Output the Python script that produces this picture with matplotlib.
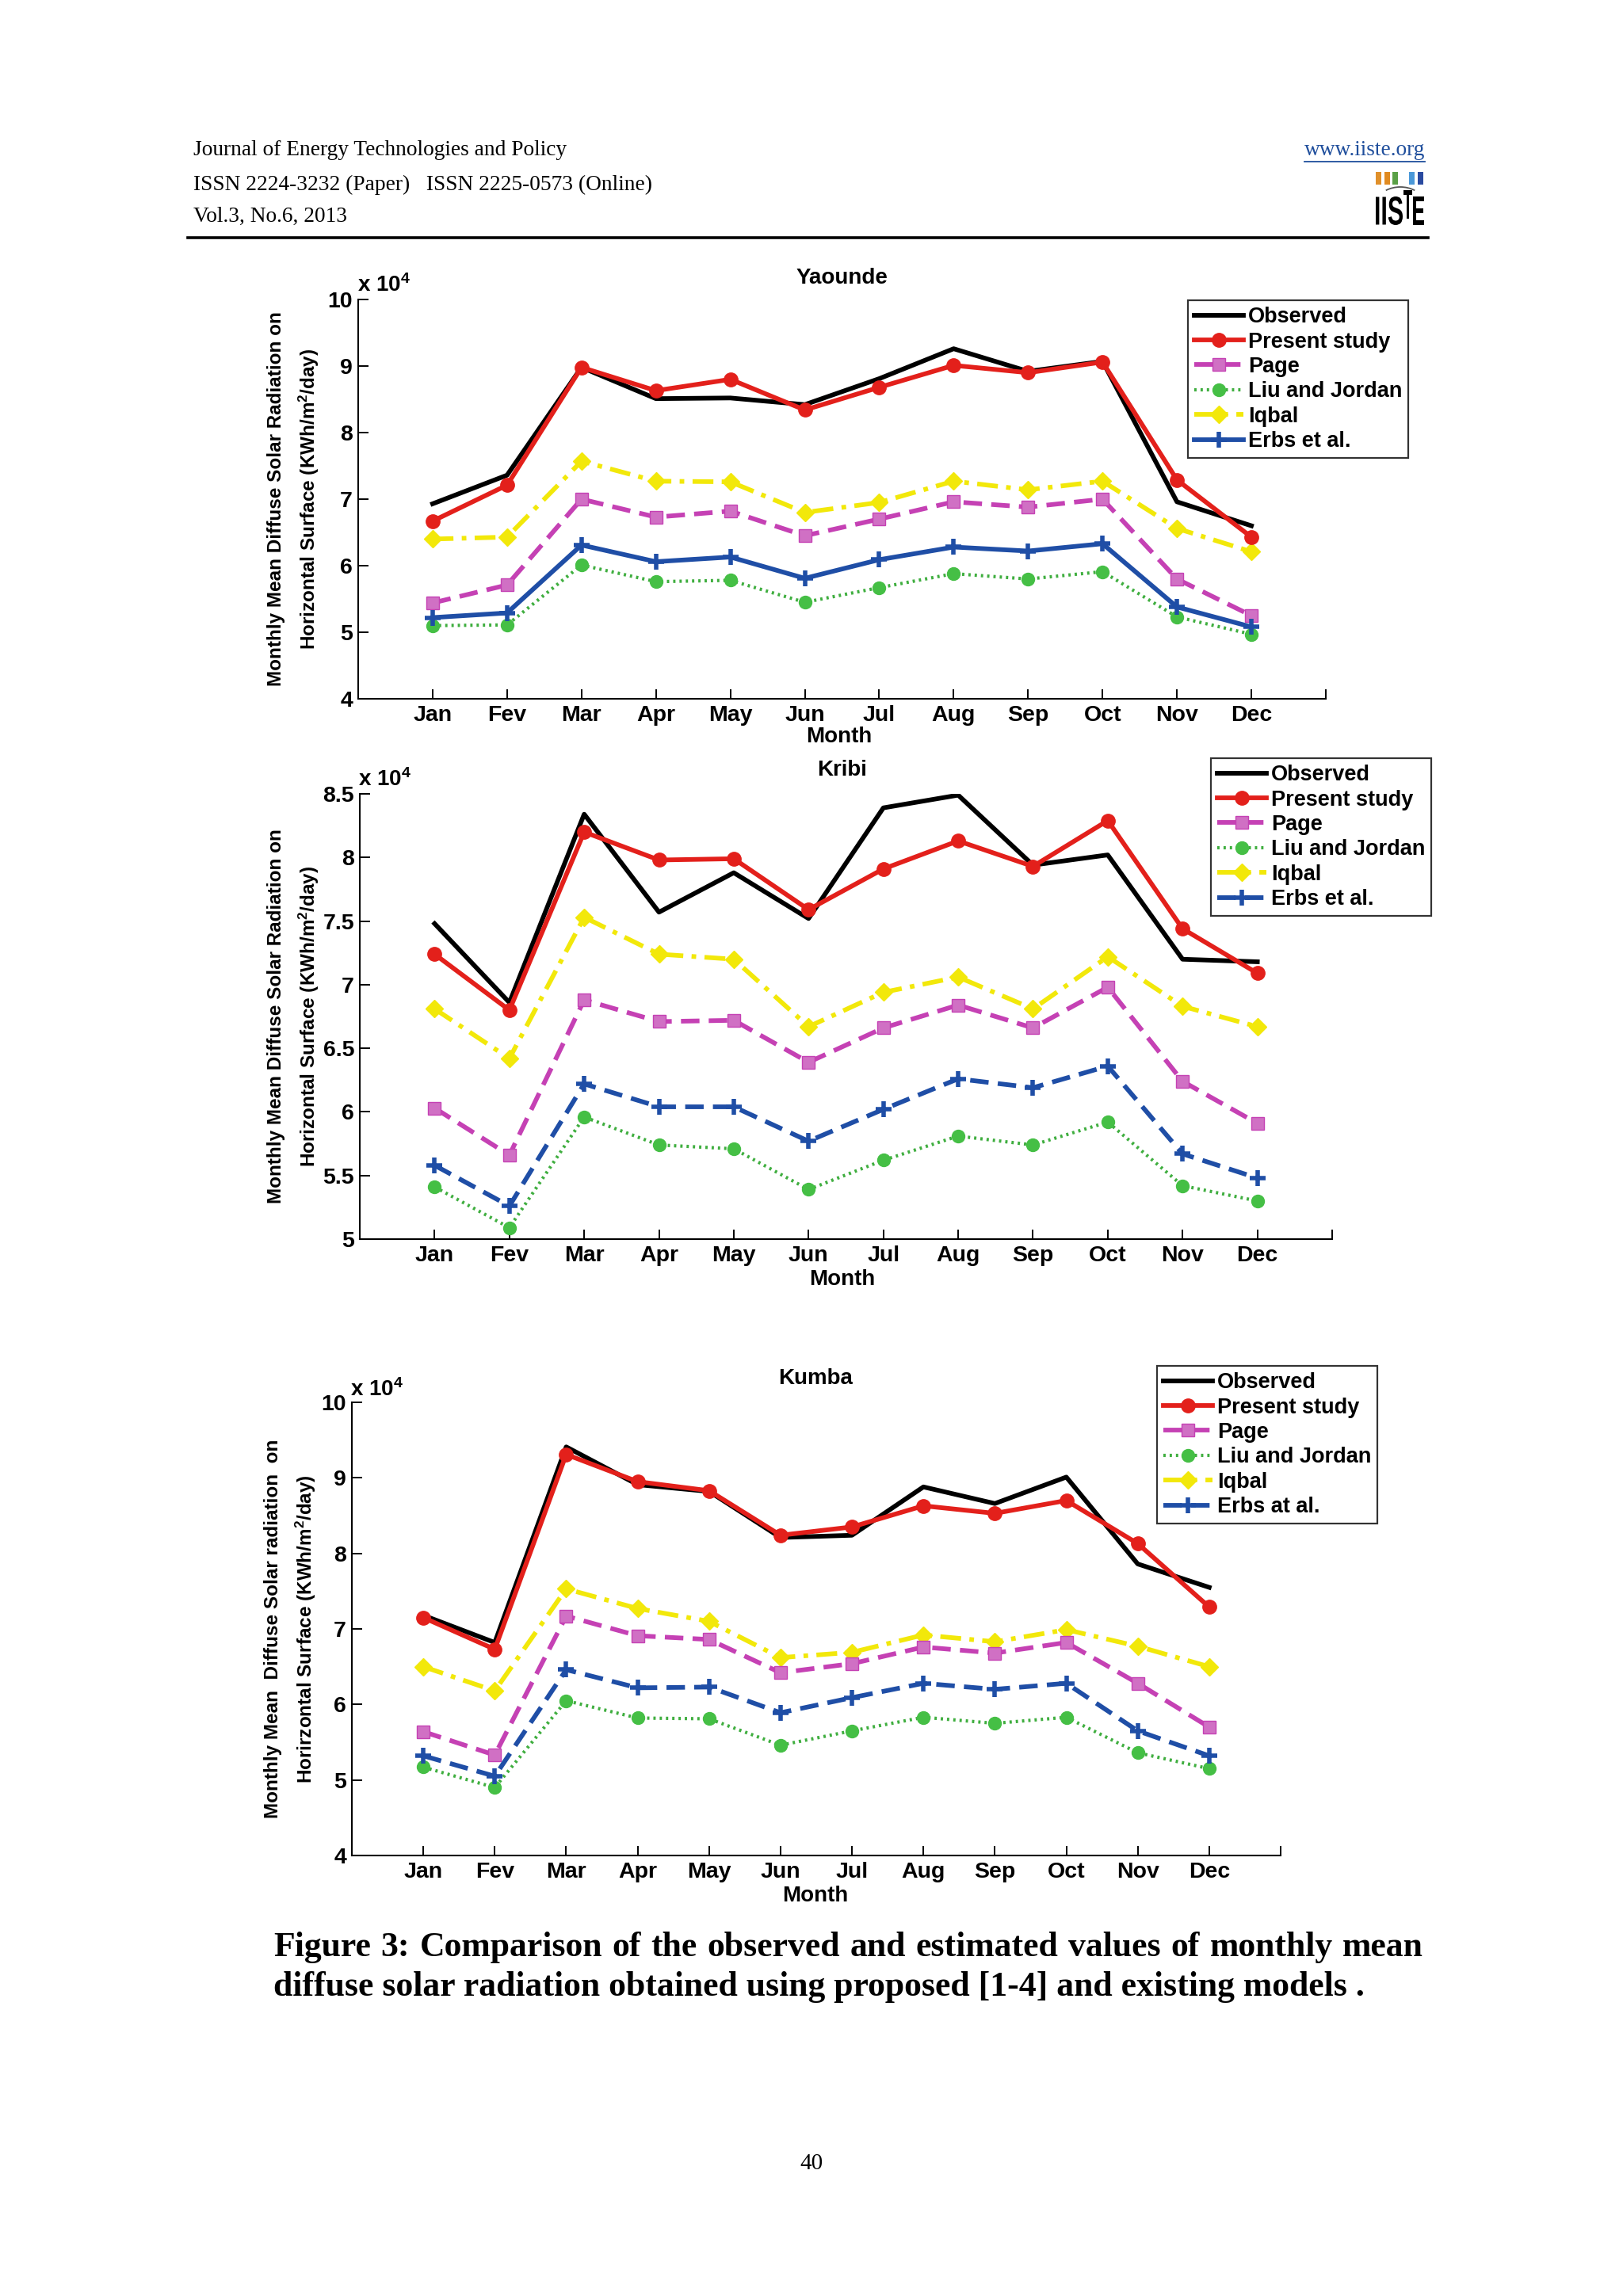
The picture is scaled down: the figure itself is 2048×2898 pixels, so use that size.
import matplotlib
matplotlib.use('Agg')
import matplotlib.pyplot as plt
from matplotlib.patches import Rectangle, Arc, PathPatch
from matplotlib.textpath import TextPath
from matplotlib.font_manager import FontProperties
from matplotlib.transforms import Affine2D

W, H = 2048, 2898

months = ['Jan', 'Fev', 'Mar', 'Apr', 'May', 'Jun', 'Jul', 'Aug', 'Sep', 'Oct', 'Nov', 'Dec']

# Yaounde (x 10^4)
obs_y = [6.93, 7.36, 8.98, 8.51, 8.52, 8.42, 8.81, 9.26, 8.92, 9.07, 6.96, 6.60]
present_y = [6.67, 7.21, 8.98, 8.63, 8.80, 8.34, 8.68, 9.01, 8.90, 9.06, 7.29, 6.43]
page_y = [5.44, 5.71, 7.00, 6.73, 6.82, 6.45, 6.70, 6.96, 6.88, 7.00, 5.80, 5.25]
liu_y = [5.10, 5.11, 6.01, 5.76, 5.78, 5.45, 5.67, 5.88, 5.80, 5.91, 5.23, 4.97]
iqbal_y = [6.40, 6.43, 7.57, 7.27, 7.26, 6.80, 6.95, 7.27, 7.14, 7.27, 6.56, 6.21]
erbs_y = [5.22, 5.29, 6.31, 6.06, 6.13, 5.81, 6.09, 6.28, 6.22, 6.33, 5.38, 5.08]

# Kribi
obs_k = [7.48, 6.86, 8.34, 7.57, 7.88, 7.52, 8.39, 8.49, 7.94, 8.02, 7.20, 7.18]
present_k = [7.24, 6.80, 8.20, 7.98, 7.99, 7.59, 7.91, 8.13, 7.93, 8.29, 7.44, 7.09]
page_k = [6.03, 5.66, 6.88, 6.71, 6.72, 6.39, 6.66, 6.84, 6.66, 6.98, 6.24, 5.91]
liu_k = [5.41, 5.09, 5.96, 5.74, 5.71, 5.39, 5.62, 5.81, 5.74, 5.92, 5.42, 5.30]
iqbal_k = [6.81, 6.42, 7.53, 7.24, 7.20, 6.67, 6.94, 7.06, 6.81, 7.22, 6.83, 6.67]
erbs_k = [5.58, 5.26, 6.22, 6.04, 6.04, 5.77, 6.02, 6.26, 6.19, 6.36, 5.67, 5.48]

# Kumba
obs_m = [7.18, 6.82, 9.41, 8.91, 8.82, 8.21, 8.24, 8.88, 8.66, 9.01, 7.86, 7.55]
present_m = [7.15, 6.73, 9.31, 8.95, 8.83, 8.24, 8.35, 8.63, 8.53, 8.70, 8.13, 7.29]
page_m = [5.64, 5.33, 7.17, 6.91, 6.86, 6.42, 6.54, 6.76, 6.68, 6.82, 6.28, 5.70]
liu_m = [5.17, 4.90, 6.05, 5.82, 5.81, 5.46, 5.65, 5.83, 5.75, 5.83, 5.36, 5.15]
iqbal_m = [6.50, 6.18, 7.53, 7.27, 7.10, 6.62, 6.69, 6.92, 6.83, 6.99, 6.77, 6.50]
erbs_m = [5.32, 5.05, 6.46, 6.22, 6.23, 5.89, 6.09, 6.28, 6.20, 6.28, 5.65, 5.32]

plt.rcParams['font.family'] = ['Liberation Sans', 'DejaVu Sans']
plt.rcParams['font.weight'] = 'bold'
plt.rcParams['mathtext.fontset'] = 'custom'
plt.rcParams['mathtext.rm'] = 'Liberation Sans:bold'
plt.rcParams['mathtext.it'] = 'Liberation Sans:bold'
plt.rcParams['mathtext.bf'] = 'Liberation Sans:bold'

fig = plt.figure(figsize=(W / 100, H / 100), dpi=100)
fig.patch.set_facecolor('white')


def fx(x):
    return x / W


def fy(y):
    return 1 - y / H


def panel(box, series, ylim, yticks, ytlabels, title, title_xy, off_xy, month_xy,
          ylab, ylab_x, legend_xy, erbs_label, erbs_ls):
    left, top, right, bottom = box
    ax = fig.add_axes([fx(left), fy(bottom), (right - left) / W, (bottom - top) / H])
    x = list(range(1, 13))
    obs, pres, page, liu, iqb, erbs = series
    ax.plot(x, obs, color='black', lw=4.2, label='Observed', zorder=3)
    ax.plot(x, pres, color='#e3201b', lw=4.2, marker='o', ms=12.5, label='Present study', zorder=4)
    ax.plot(x, page, color='#c541b4', lw=4.2, dashes=(4.0, 2.0), marker='s', ms=11.5,
            mfc='#d070c4', label='Page', zorder=3)
    ax.plot(x, liu, color='#3fae3f', lw=3.0, dashes=(0.7, 1.2), marker='o', ms=11.5,
            mfc='#45bf45', mec='#45bf45', label='Liu and Jordan', zorder=2)
    ax.plot(x, iqb, color='#f2e80a', lw=4.2, dashes=(4.5, 1.8, 1, 1.8), marker='D', ms=11,
            label='Iqbal', zorder=2)
    if erbs_ls == 'solid':
        ax.plot(x, erbs, color='#1f4ea6', lw=4.2, marker='+', ms=15, mew=4,
                label=erbs_label, zorder=3)
    else:
        ax.plot(x, erbs, color='#1f4ea6', lw=4.2, dashes=(4.0, 2.0), marker='+', ms=15,
                mew=4, label=erbs_label, zorder=3)

    ax.set_xlim(0, 13)
    ax.set_ylim(*ylim)
    ax.set_xticks(list(range(1, 14)))
    ax.set_xticklabels(months + [''])
    ax.set_yticks(yticks)
    ax.set_yticklabels(ytlabels)
    ax.spines['top'].set_visible(False)
    ax.spines['right'].set_visible(False)
    ax.spines['left'].set_linewidth(1.5)
    ax.spines['bottom'].set_linewidth(1.5)
    ax.tick_params(direction='in', length=9, width=1.4, labelsize=20.5)
    ax.tick_params(axis='x', pad=6)
    ax.tick_params(axis='y', pad=5)
    for t in ax.get_xticklabels() + ax.get_yticklabels():
        t.set_fontweight('bold')

    fig.text(fx(title_xy[0]), fy(title_xy[1]), title, ha='center', va='center',
             fontsize=20, fontweight='bold')
    fig.text(fx(off_xy[0]), fy(off_xy[1]), r'x 10$^4$', ha='left', va='baseline',
             fontsize=20, fontweight='bold')
    fig.text(fx(month_xy[0]), fy(month_xy[1]), 'Month', ha='center', va='center',
             fontsize=20, fontweight='bold')
    ymid = (top + bottom) / 2
    fig.text(fx(ylab_x), fy(ymid), ylab, rotation=90, ha='center', va='center',
             fontsize=17.5, fontweight='bold', linespacing=1.6, multialignment='center')

    leg = ax.legend(loc='upper left', bbox_to_anchor=(fx(legend_xy[0]), fy(legend_xy[1])),
                    bbox_transform=fig.transFigure, borderaxespad=0, fancybox=False,
                    frameon=True, edgecolor='black', fontsize=19.5, handlelength=2.3,
                    handletextpad=0.2, labelspacing=0.2, borderpad=0.3)
    leg.get_frame().set_linewidth(1.6)
    for t in leg.get_texts():
        t.set_fontweight('bold')
    return ax


panel((452, 378, 1673, 882), (obs_y, present_y, page_y, liu_y, iqbal_y, erbs_y),
      (4, 10), [4, 5, 6, 7, 8, 9, 10], ['4', '5', '6', '7', '8', '9', '10'],
      'Yaounde', (1062, 351), (451, 368), (1059, 930),
      'Monthly Mean Diffuse Solar Radiation on\nHorizontal Surface (KWh/m$^2$/day)', 371,
      (1499, 379), 'Erbs et al.', 'solid')

panel((454, 1002, 1681, 1564), (obs_k, present_k, page_k, liu_k, iqbal_k, erbs_k),
      (5, 8.5), [5, 5.5, 6, 6.5, 7, 7.5, 8, 8.5],
      ['5', '5.5', '6', '6.5', '7', '7.5', '8', '8.5'],
      'Kribi', (1063, 972), (452, 992), (1063, 1615),
      'Monthly Mean Diffuse Solar Radiation on\nHorizontal Surface (KWh/m$^2$/day)', 371,
      (1528, 957), 'Erbs et al.', 'dashed')

panel((444, 1770, 1616, 2342), (obs_m, present_m, page_m, liu_m, iqbal_m, erbs_m),
      (4, 10), [4, 5, 6, 7, 8, 9, 10], ['4', '5', '6', '7', '8', '9', '10'],
      'Kumba', (1029, 1740), (442, 1762), (1029, 2393),
      'Monthly Mean  Diffuse Solar radiation  on\nHorirzontal Surface (KWh/m$^2$/day)', 367,
      (1460, 1724), 'Erbs at al.', 'dashed')

renderer = fig.canvas.get_renderer()

# header
serif = ['Liberation Serif', 'DejaVu Serif']
fig.text(fx(244), fy(190), 'Journal of Energy Technologies and Policy', family=serif,
         fontweight='normal', fontsize=19.7, ha='left', va='center')
fig.text(fx(244), fy(233), 'ISSN 2224-3232 (Paper)   ISSN 2225-0573 (Online)', family=serif,
         fontweight='normal', fontsize=19.7, ha='left', va='center')
fig.text(fx(244), fy(273), 'Vol.3, No.6, 2013', family=serif,
         fontweight='normal', fontsize=19.7, ha='left', va='center')
url = fig.text(fx(1798), fy(190), 'www.iiste.org', family=serif, fontweight='normal',
               fontsize=19.7, ha='right', va='center', color='#1f4e9c')
uw = url.get_window_extent(renderer=renderer).width
fig.add_artist(plt.Line2D([fx(1798 - uw), fx(1798)], [fy(204), fy(204)], color='#1f4e9c', lw=1.3))
fig.add_artist(plt.Line2D([fx(237), fx(1802)], [fy(300), fy(300)], color='black', lw=2.6))

# logo: coloured bars, arc and condensed "IISTE"
bar_cols = ['#e0902a', '#e08a20', '#5aa046', None, '#4a98d8', '#2a4aa0']
for i, c in enumerate(bar_cols):
    if c is None:
        continue
    x0 = 1736 + i * 10.5
    fig.add_artist(Rectangle((fx(x0), fy(233)), 7 / W, 16 / H, transform=fig.transFigure,
                             color=c, lw=0))
fig.add_artist(Arc((fx(1767), fy(262)), 66 / W, 52 / H, theta1=40, theta2=140,
                   transform=fig.transFigure, color='#555555', lw=1.3))
logo_font = FontProperties(family='Liberation Sans', weight='bold')


def logo_text(s, x_left, y_base, cap_px, width_px):
    tp = TextPath((0, 0), s, size=100, prop=logo_font)
    ext = tp.get_extents()
    sx = width_px / ext.width
    sy = cap_px / ext.height
    tr = Affine2D().translate(-ext.x0, -ext.y0).scale(sx, sy).translate(x_left, H - y_base)
    fig.add_artist(PathPatch(tp, transform=tr, color='black', lw=0))


logo_text('IIS', 1736, 284, 36, 34)
logo_text('T', 1771, 276, 36, 11)
logo_text('E', 1783, 284, 36, 14)

# caption, first line justified
line1 = 'Figure 3: Comparison of the observed and estimated values of monthly mean'.split()
cap_size = 31.5
words = [fig.text(0, fy(2458), w, family=serif, fontweight='bold', fontsize=cap_size,
                  ha='left', va='center') for w in line1]
widths = [t.get_window_extent(renderer=renderer).width for t in words]
gap = (1796 - 345 - sum(widths)) / (len(words) - 1)
xpos = 345
for t, w in zip(words, widths):
    t.set_x(fx(xpos))
    xpos += w + gap
fig.text(fx(345), fy(2508),
         'diffuse solar radiation obtained using proposed [1-4] and existing models .',
         family=serif, fontweight='bold', fontsize=cap_size, ha='left', va='center')

fig.text(fx(1024), fy(2731), '40', family=serif, fontweight='normal', fontsize=21,
         ha='center', va='center')

fig.savefig('out.png', dpi=100, facecolor='white')
